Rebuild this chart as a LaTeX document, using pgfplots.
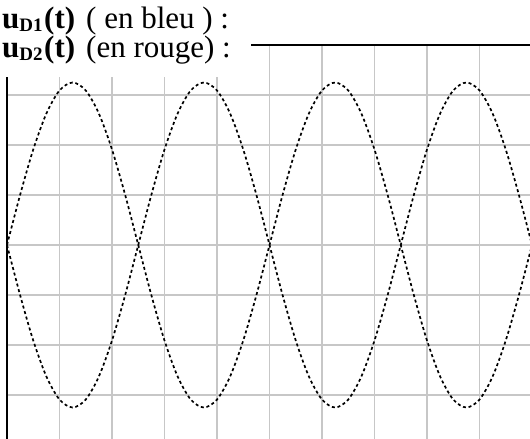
\documentclass[border=0pt]{standalone}
\usepackage{fontspec}
\setmainfont{Liberation Serif}
\usepackage{pgfplots}
\pgfplotsset{compat=1.18}
\usepackage{pgfplotstable}

% x in grid divisions, a = u_D1, b = u_D2
\pgfplotstableread{
x     a       b
0     0       0
0.25  1.004  -1.004
0.5   1.910  -1.910
0.75  2.629  -2.629
1     3.091  -3.091
1.25  3.25   -3.25
1.5   3.091  -3.091
1.75  2.629  -2.629
2     1.910  -1.910
2.25  1.004  -1.004
2.5   0       0
2.75 -1.004   1.004
3    -1.910   1.910
3.25 -2.629   2.629
3.5  -3.091   3.091
3.75 -3.25    3.25
4    -3.091   3.091
4.25 -2.629   2.629
4.5  -1.910   1.910
4.75 -1.004   1.004
5     0       0
5.25  1.004  -1.004
5.5   1.910  -1.910
5.75  2.629  -2.629
6     3.091  -3.091
6.25  3.25   -3.25
6.5   3.091  -3.091
6.75  2.629  -2.629
7     1.910  -1.910
7.25  1.004  -1.004
7.5   0       0
7.75 -1.004   1.004
8    -1.910   1.910
8.25 -2.629   2.629
8.5  -3.091   3.091
8.75 -3.25    3.25
9    -3.091   3.091
9.25 -2.629   2.629
9.5  -1.910   1.910
9.75 -1.004   1.004
10    0       0
}\tensions

\tikzset{oscillo/.style={black,line width=1.7bp,dash pattern=on 3bp off 2.7bp,smooth,mark=none}}

\begin{document}
\begin{tikzpicture}
\useasboundingbox (0bp,0bp) rectangle (530bp,439bp);
\clip (0bp,0bp) rectangle (530bp,439bp);
\begin{axis}[at={(7bp,-6bp)},anchor=south west,
 width=525bp,height=400bp,scale only axis,
 xmin=0,xmax=10,ymin=-4,ymax=4,
 xtick={0,...,10},ytick={-4,...,4},
 xticklabels={},yticklabels={},major tick length=0pt,
 grid=major,grid style={color=black!22,line width=1.3bp},
 axis line style={black,line width=2bp}]
\addplot[oscillo] table[x=x,y=a]{\tensions};
\addplot[oscillo] table[x=x,y=b]{\tensions};
\end{axis}
% white patch under the labels
\fill[white] (0bp,362bp) rectangle (251bp,439bp);
\begin{scope}[every node/.style={anchor=base west,inner sep=0pt,
   font=\fontsize{31bp}{34bp}\selectfont}]
\node at (2bp,410bp) {\textbf{u}\raisebox{-2.5bp}{\fontsize{19bp}{19bp}\selectfont\textbf{D1}}};
\node at (44bp,410bp) {\textbf{(t)}};
\node at (86bp,410bp) {( en bleu ) :};
\node at (2bp,381bp) {\textbf{u}\raisebox{-2.5bp}{\fontsize{19bp}{19bp}\selectfont\textbf{D2}}};
\node at (44bp,381bp) {\textbf{(t)}};
\node at (86bp,381bp) {(en rouge) :};
\end{scope}
\end{tikzpicture}
\end{document}
